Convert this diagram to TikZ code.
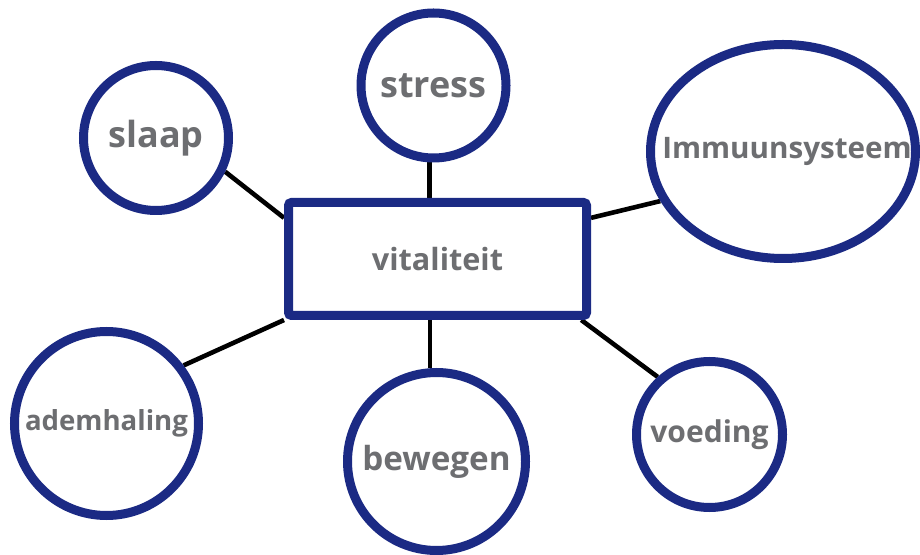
\documentclass[tikz,border=0pt]{standalone}
\usepackage{fontspec}
\setmainfont{Open Sans}
\usetikzlibrary{shapes.geometric, backgrounds}
\definecolor{RingNavy}{HTML}{1B2A84}
\definecolor{WordGrey}{HTML}{6D6E71}

\begin{document}
\begin{tikzpicture}[x=0.5pt, y=-0.5pt,
  ring/.style={circle, draw=RingNavy, line width=4.5pt, fill=white, inner sep=0pt, text=WordGrey},
  link/.style={draw=black, line width=2.3pt}]
  % keep the 920 x 555 frame
  \useasboundingbox (0,0) rectangle (920,555);

  % centre box
  \node [draw=RingNavy, line width=4.5pt, rounded corners=1.5pt, fill=white, minimum width=149pt, minimum height=56.5pt, inner sep=0pt, text=WordGrey, font=\fontsize{15.3}{17}\bfseries] (V) at (437.5, 259) {vitaliteit};

  % topics round it
  \node [ring, minimum size=72.5pt, font=\fontsize{18}{20}\bfseries] (S) at (156, 138) {slaap};
  \node [ring, minimum size=72.5pt, font=\fontsize{18}{20}\bfseries] (St) at (433.5, 85.5) {stress};
  \node [ring, ellipse, minimum width=132.5pt, minimum height=107pt, label={[text=WordGrey, font=\fontsize{14.8}{17}\bfseries, xshift=2pt]center:Immuunsysteem}] (Im) at (783, 151.5) {};
  \node [ring, minimum size=92pt, font=\fontsize{13.8}{16}\bfseries] (A) at (106.5, 423.5) {ademhaling};
  \node [ring, minimum size=89pt, font=\fontsize{16.6}{19}\bfseries] (B) at (436.5, 461.5) {bewegen};
  \node [ring, minimum size=73pt, font=\fontsize{15}{17}\bfseries] (Vo) at (709.5, 434.5) {voeding};

  % spokes behind the rings
  \begin{scope}[on background layer]
    \draw [link] (S.-26) -- (V.165);
    \draw [link] (St.-93) -- (St.-93 |- V.north);
    \draw [link] (Im.202) -- (V.15);
    \draw [link] (A.37) -- (V.south west);
    \draw [link] (B.94) -- (B.94 |- V.south);
    \draw [link] (Vo.132) -- (V.-23);
  \end{scope}
\end{tikzpicture}
\end{document}
